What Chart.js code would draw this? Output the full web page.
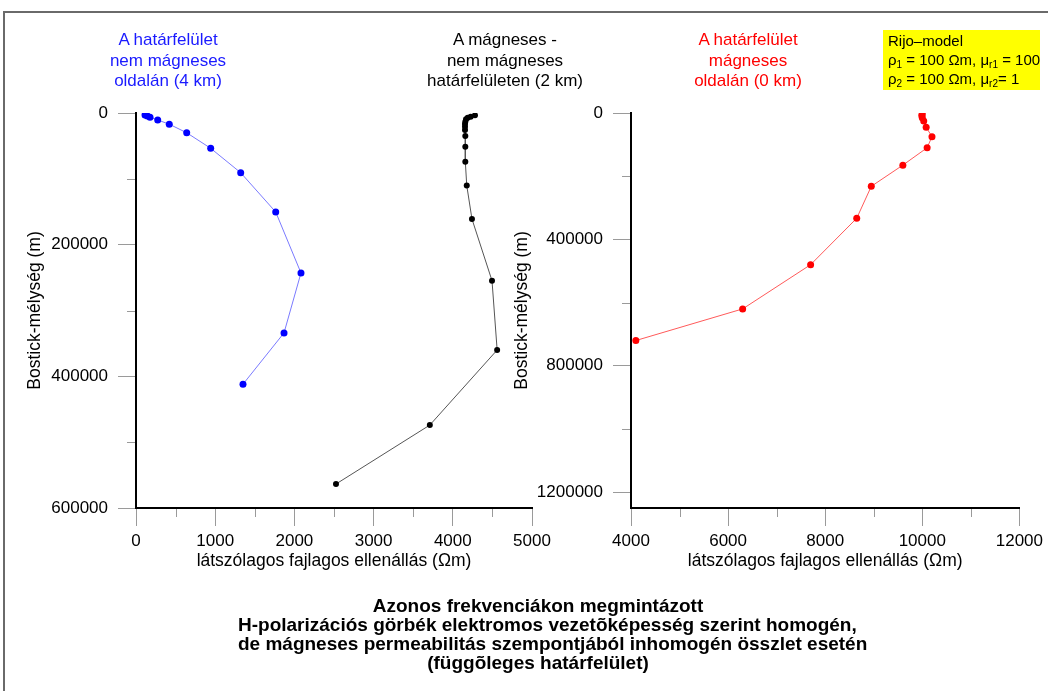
<!DOCTYPE html>
<html>
<head>
<meta charset="utf-8">
<script src="https://cdn.jsdelivr.net/npm/chart.js@4/dist/chart.umd.min.js"></script>
<style>
  html, body { margin: 0; padding: 0; background: #fff; }
  body { width: 1048px; height: 691px; position: relative; overflow: hidden;
         font-family: "Liberation Sans", Arial, sans-serif; }
  canvas { position: absolute; top: 0; }
  #leftChart { left: 0; }
  #rightChart { left: 480px; }
  .frame { position: absolute; left: 3px; top: 11px; width: 1100px; height: 720px;
           border-left: 2px solid #6a6a6a; border-top: 2px solid #6a6a6a; box-sizing: border-box; }
  .note { position: absolute; top: 30px; width: 240px; text-align: center;
          font-size: 17px; line-height: 20.5px; white-space: nowrap; }
  .info { position: absolute; left: 883px; top: 30px; width: 157px; height: 60px;
          background: #ffff00; box-sizing: border-box; padding: 1px 0 0 5px;
          font-size: 15px; line-height: 19px; color: #000; white-space: nowrap; }
  .info sub { font-size: 10px; vertical-align: -3px; line-height: 0; }
  .title { position: absolute; left: 238px; width: 600px; top: 596px; text-align: center;
           font-weight: bold; font-size: 19px; line-height: 19px; color: #000; white-space: nowrap; }
</style>
</head>
<body>
<div class="frame"></div>
<canvas id="leftChart" width="600" height="691"></canvas>
<canvas id="rightChart" width="568" height="691"></canvas>

<div class="note" style="left:48px; color:#1a1aff;">A határfelület<br>nem mágneses<br>oldalán (4 km)</div>
<div class="note" style="left:385px; color:#000;">A mágneses -<br>nem mágneses<br>határfelületen (2 km)</div>
<div class="note" style="left:628px; color:#ff0000;">A határfelület<br>mágneses<br>oldalán (0 km)</div>
<div class="info">Rijo–model<br>ρ<sub>1</sub> = 100 Ωm, μ<sub>r1</sub> = 100<br>ρ<sub>2</sub> = 100 Ωm, μ<sub>r2</sub>= 1</div>
<div class="title">Azonos frekvenciákon megmintázott<br>H-polarizációs görbék elektromos vezetõképesség szerint homogén,<br>de mágneses permeabilitás szempontjából inhomogén összlet esetén<br>(függõleges határfelület)</div>

<script>
// Apparent resistivity (Ωm) against Bostick depth (m)
const blueRho   = [114, 143, 177, 274, 420, 640, 943, 1322, 1764, 2083, 1869, 1351];
const blueDepth = [3000, 4600, 6500, 10600, 17000, 30000, 53600, 90700, 150400, 243000, 334000, 412000];

const blackRho   = [4280, 4226, 4188, 4167, 4158, 4154, 4154, 4154, 4158, 4158, 4158, 4176, 4242, 4495, 4560, 3710, 2525];
const blackDepth = [3500, 5600, 7100, 9600, 13200, 16700, 20800, 25800, 35000, 51200, 74000, 110000, 161000, 254700, 360000, 474000, 563600];

const redRho   = [10000, 9990, 10000, 10030, 10080, 10200, 10100, 9600, 8950, 8650, 7700, 6300, 4100];
const redDepth = [3000, 8000, 15000, 25000, 45000, 75000, 110000, 165000, 232000, 333000, 480000, 620000, 720000];

// Axis ticks: labelled (major) and unlabelled short (minor) marks
const leftXMajor  = [0, 1000, 2000, 3000, 4000, 5000];
const leftXMinor  = [500, 1500, 2500, 3500, 4500];
const leftYMajor  = [0, 200000, 400000, 600000];
const leftYMinor  = [100000, 300000, 500000];
const rightXMajor = [4000, 6000, 8000, 10000, 12000];
const rightXMinor = [5000, 7000, 9000, 11000];
const rightYMajor = [0, 400000, 800000, 1200000];
const rightYMinor = [200000, 600000, 1000000];

const xTitle = 'látszólagos fajlagos ellenállás (Ωm)';
const yTitle = 'Bostick-mélység (m)';

const pts = (xs, ys) => xs.map((v, i) => ({ x: v, y: ys[i] }));
const FONT = 'Liberation Sans';

// short minor ticks drawn from the scales themselves
const minorTicks = {
  id: 'minorTicks',
  afterDraw(chart, args, opts) {
    const ctx = chart.ctx, xs = chart.scales.x, ys = chart.scales.y;
    ctx.save();
    ctx.strokeStyle = '#9a9a9a';
    ctx.lineWidth = 1;
    ctx.beginPath();
    (opts.x || []).forEach(v => {
      const px = Math.round(xs.getPixelForValue(v)) + 0.5;
      ctx.moveTo(px, xs.top + 1); ctx.lineTo(px, xs.top + 9);
    });
    (opts.y || []).forEach(v => {
      const py = Math.round(ys.getPixelForValue(v)) + 0.5;
      ctx.moveTo(ys.right - 1, py); ctx.lineTo(ys.right - 9, py);
    });
    ctx.stroke();
    ctx.restore();
  }
};

function axis(opts) {
  const all = opts.major.concat(opts.minor).sort((a, b) => a - b);
  const horizontal = opts.horizontal;
  return {
    type: 'linear',
    position: horizontal ? 'bottom' : 'left',
    min: opts.min, max: opts.max,
    reverse: !horizontal,
    afterBuildTicks: s => { s.ticks = all.map(v => ({ value: v })); },
    afterFit: s => { if (horizontal) s.height = opts.size; else s.width = opts.size; },
    border: { display: true, color: '#000', width: 2 },
    grid: {
      display: true, drawOnChartArea: false, drawTicks: true, tickLength: 18, tickWidth: 1,
      tickColor: c => opts.major.includes(c.tick.value) ? '#9a9a9a' : 'rgba(0,0,0,0)'
    },
    ticks: {
      autoSkip: false, maxRotation: 0, minRotation: 0,
      padding: horizontal ? 5 : 10,
      color: '#000',
      font: { family: FONT, size: 17 },
      callback: v => opts.major.includes(v) ? String(v) : ''
    },
    title: {
      display: true, text: horizontal ? xTitle : yTitle, color: '#000',
      font: { family: FONT, size: 17.5 },
      padding: horizontal ? { top: 0, bottom: 6.5 } : { top: 5, bottom: 0 }
    }
  };
}

function lineSet(xs, ys, line, dot, r) {
  return {
    data: pts(xs, ys), showLine: true, borderColor: line, borderWidth: 1,
    pointBackgroundColor: dot, pointBorderColor: dot, pointRadius: r, pointBorderWidth: 0,
    tension: 0
  };
}

const common = {
  responsive: false, animation: false, events: [],
  plugins: { legend: { display: false }, tooltip: { enabled: false } }
};

new Chart(document.getElementById('leftChart'), {
  type: 'scatter',
  data: { datasets: [
    lineSet(blueRho, blueDepth, '#7a7aff', '#0000ff', 3.5),
    lineSet(blackRho, blackDepth, '#555555', '#000000', 3)
  ] },
  options: Object.assign({}, common, {
    layout: { padding: { left: 20, top: 113, right: 68, bottom: 113 } },
    scales: {
      x: axis({ horizontal: true, min: 0, max: 5000, major: leftXMajor, minor: leftXMinor, size: 70 }),
      y: axis({ horizontal: false, min: 0, max: 600000, major: leftYMajor, minor: leftYMinor, size: 116 })
    },
    plugins: Object.assign({}, common.plugins, { minorTicks: { x: leftXMinor, y: leftYMinor } })
  }),
  plugins: [minorTicks]
});

new Chart(document.getElementById('rightChart'), {
  type: 'scatter',
  data: { datasets: [
    lineSet(redRho, redDepth, '#ff5a5a', '#ff0000', 3.5)
  ] },
  options: Object.assign({}, common, {
    layout: { padding: { left: 27, top: 113, right: 24, bottom: 113 } },
    scales: {
      x: axis({ horizontal: true, min: 4000, max: 12000, major: rightXMajor, minor: rightXMinor, size: 70 }),
      y: axis({ horizontal: false, min: 0, max: 1250000, major: rightYMajor, minor: rightYMinor, size: 124 })
    },
    plugins: Object.assign({}, common.plugins, { minorTicks: { x: rightXMinor, y: rightYMinor } })
  }),
  plugins: [minorTicks]
});
</script>
</body>
</html>
